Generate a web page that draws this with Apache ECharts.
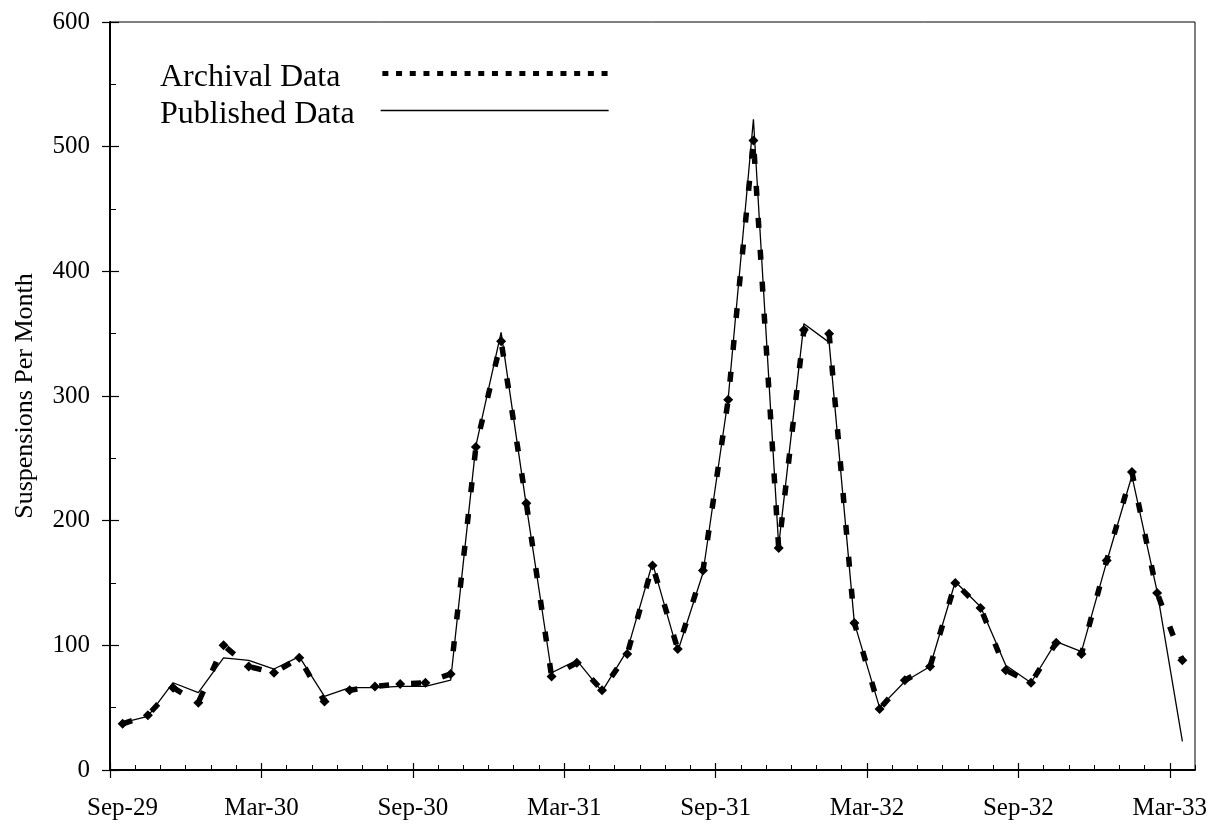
<!DOCTYPE html>
<html><head><meta charset="utf-8">
<script src="https://cdn.jsdelivr.net/npm/echarts@6/dist/echarts.min.js"></script>
<style>html,body{margin:0;padding:0;background:#fff}#c{width:1225px;height:824px}</style>
</head><body><div id="c"></div>
<script>
const months = ['Sep-29','Oct-29','Nov-29','Dec-29','Jan-30','Feb-30','Mar-30','Apr-30','May-30','Jun-30','Jul-30','Aug-30',
  'Sep-30','Oct-30','Nov-30','Dec-30','Jan-31','Feb-31','Mar-31','Apr-31','May-31','Jun-31','Jul-31','Aug-31',
  'Sep-31','Oct-31','Nov-31','Dec-31','Jan-32','Feb-32','Mar-32','Apr-32','May-32','Jun-32','Jul-32','Aug-32',
  'Sep-32','Oct-32','Nov-32','Dec-32','Jan-33','Feb-33','Mar-33'];
const tickLabels = ['Sep-29','Mar-30','Sep-30','Mar-31','Sep-31','Mar-32','Sep-32','Mar-33'];
const yTicks = [0,100,200,300,400,500,600];
const archival = [37,44,66,54,100,83,78,90,55,64,67,69,70,77,259,344,214,75,86,64,93,164,97,160,297,505,178,353,350,118,49,72,83,150,130,80,70,102,93,168,239,142,88];
const published = [38,43,70,62,90,88,81,91,59,66,66,67,67,72,260,351,212,78,88,63,96,166,95,158,298,522,180,358,343,118,50,71,83,151,131,84,70,103,95,167,236,143,23];

const FONT = 'Liberation Serif';
const tickPos = tickLabels.map(t => months.indexOf(t));
const xMax = months.length; // axis ends one month after the last month start
const toPairs = arr => arr.map((v, i) => [i + 0.5, v]); // mid-month placement

const baseX = {type:'value', min:0, max:xMax, interval:1, gridIndex:0};
const baseY = {type:'value', min:0, max:600, interval:50, gridIndex:0, splitLine:{show:false}};

const chart = echarts.init(document.getElementById('c'), null, {renderer:'canvas'});
chart.setOption({
  animation:false,
  backgroundColor:'#fff',
  grid:{left:110, right:30, top:22, bottom:54, show:true, borderColor:'#000', borderWidth:1, backgroundColor:'transparent'},
  xAxis:[
    Object.assign({}, baseX, {
      axisLine:{show:true, lineStyle:{color:'#000', width:2}},
      axisTick:{show:true, inside:true, length:5, lineStyle:{color:'#000', width:1}},
      splitLine:{show:false},
      axisLabel:{show:true, customValues:tickPos, margin:26, color:'#000', fontFamily:FONT, fontSize:25,
        formatter: v => { const i = Math.round(v); const t = months[i] || ''; return i === 0 ? '{first|' + t + '}' : t; },
        rich:{first:{fontFamily:FONT, fontSize:25, color:'#000', padding:[0,0,0,25]}}}
    }),
    Object.assign({}, baseX, {
      axisLine:{show:false}, splitLine:{show:false}, axisLabel:{show:false},
      axisTick:{show:true, inside:true, length:8, customValues:tickPos, lineStyle:{color:'#000', width:1.2}}
    }),
    Object.assign({}, baseX, {
      axisLine:{show:false}, splitLine:{show:false}, axisLabel:{show:false},
      axisTick:{show:true, inside:false, length:7, customValues:tickPos, lineStyle:{color:'#000', width:1.2}}
    })
  ],
  yAxis:[
    Object.assign({}, baseY, {
      axisLine:{show:true, lineStyle:{color:'#000', width:2}},
      axisTick:{show:true, inside:true, length:6, lineStyle:{color:'#000', width:1}},
      axisLabel:{show:true, customValues:yTicks, margin:20, color:'#000', fontFamily:FONT, fontSize:25},
      name:'Suspensions Per Month', nameLocation:'middle', nameGap:72, nameRotate:90,
      nameTextStyle:{color:'#000', fontFamily:FONT, fontSize:26}
    }),
    Object.assign({}, baseY, {
      axisLine:{show:false}, axisLabel:{show:false},
      axisTick:{show:true, inside:false, length:9, customValues:yTicks, lineStyle:{color:'#000', width:1.2}}
    }),
    Object.assign({}, baseY, {
      axisLine:{show:false}, axisLabel:{show:false},
      axisTick:{show:true, inside:true, length:8, customValues:yTicks, lineStyle:{color:'#000', width:1.2}}
    })
  ],
  legend:[
    {
      data:[{name:'Archival Data', itemStyle:{opacity:0}, lineStyle:{type:[6,7.7], width:5, color:'#000', cap:'butt'}}],
      orient:'vertical', left:160, top:53, align:'right', itemWidth:228, itemHeight:14, padding:0,
      selectedMode:false, formatter:'\n{name}',
      textStyle:{fontFamily:FONT, fontSize:32, lineHeight:9, color:'#000', padding:[0,37,0,0]}
    },
    {
      data:[{name:'Published Data', itemStyle:{opacity:0}, lineStyle:{type:'solid', width:1.3, color:'#000'}}],
      orient:'vertical', left:160, top:90, align:'right', itemWidth:228, itemHeight:14, padding:0,
      selectedMode:false, formatter:'\n{name}',
      textStyle:{fontFamily:FONT, fontSize:32, lineHeight:9, color:'#000', padding:[0,21,0,0]}
    }
  ],
  series:[
    {
      name:'Archival Data', type:'line', xAxisIndex:0, yAxisIndex:0,
      data:toPairs(archival),
      symbol:'diamond', symbolSize:10, showSymbol:true,
      itemStyle:{color:'#000'},
      lineStyle:{color:'#000', width:5.5, type:[10,22], cap:'butt'},
      z:2
    },
    {
      name:'Published Data', type:'line', xAxisIndex:0, yAxisIndex:0,
      data:toPairs(published),
      symbol:'none', showSymbol:false,
      lineStyle:{color:'#000', width:1.3},
      z:3
    }
  ]
});
</script>
</body></html>
